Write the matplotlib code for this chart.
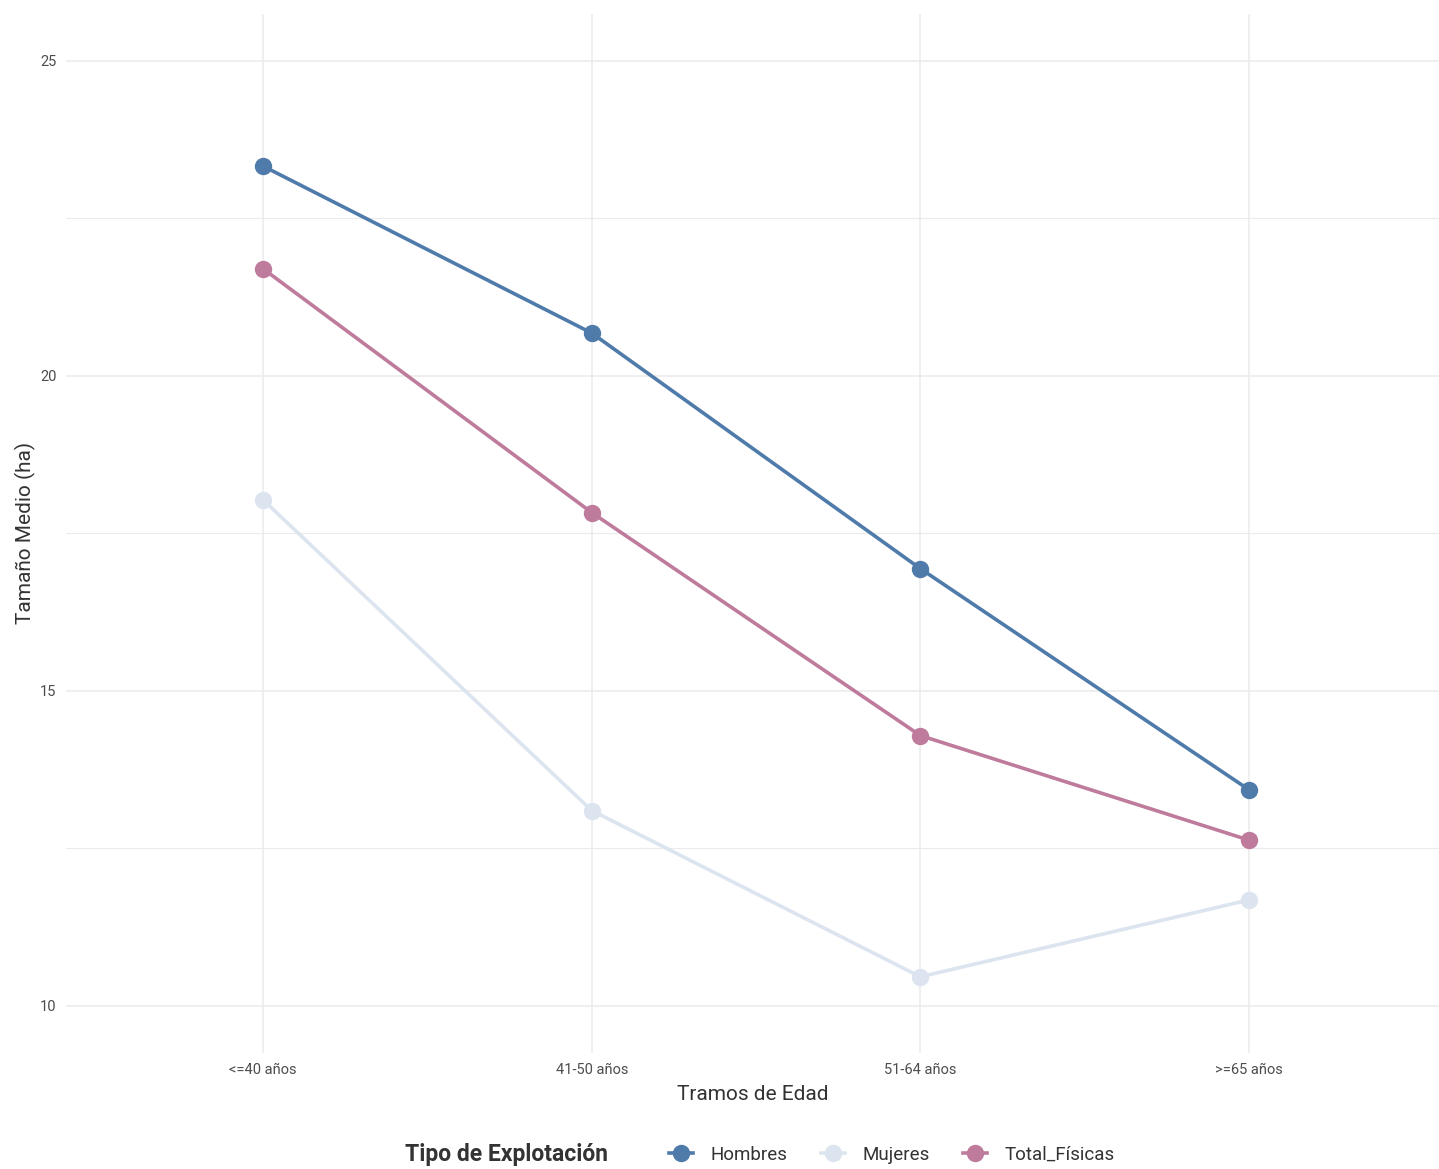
import matplotlib
matplotlib.use("Agg")
import matplotlib.pyplot as plt
from matplotlib.lines import Line2D

categories = ["<=40 años", "41-50 años", "51-64 años", ">=65 años"]
hombres = [23.33, 20.68, 16.94, 13.43]
mujeres = [18.03, 13.10, 10.46, 11.68]
total_fisicas = [21.70, 17.83, 14.29, 12.63]
series_names = ["Hombres", "Mujeres", "Total_Físicas"]
colors = ["#4F7BAB", "#DCE5EF", "#BF7B9C"]

plt.rcParams['font.family'] = ['Roboto', 'DejaVu Sans']

W, H = 1439, 1169
fig = plt.figure(figsize=(W / 100, H / 100), dpi=100)
left = 66 / W
bottom = (H - 1053) / H
top = (H - 13.75) / H
ax = fig.add_axes([left, bottom, 1 - left, top - bottom])

x = list(range(len(categories)))
for vals, name, c in zip([hombres, mujeres, total_fisicas], series_names, colors):
    ax.plot(x, vals, color=c, lw=2.6, marker="o", markersize=11.5, label=name,
            solid_capstyle="round")

ax.set_xlim(-0.6, -0.6 + (W - 66) / 328.6)
ax.set_ylim(9.25, 25.75)
ax.set_yticks([10, 15, 20, 25])
ax.set_yticks([12.5, 17.5, 22.5], minor=True)
ax.set_xticks(x)
ax.set_xticklabels(categories)
ax.grid(True, which="major", color="#EBEBEB", lw=1.1)
ax.grid(True, which="minor", axis="y", color="#EBEBEB", lw=0.8)
ax.set_axisbelow(True)
for s in ax.spines.values():
    s.set_visible(False)
ax.tick_params(which="both", length=0, labelsize=10.5, labelcolor="#4D4D4D", pad=7)

ax.set_xlabel("Tramos de Edad", fontsize=15, color="#333333", labelpad=6)
ax.set_ylabel("Tamaño Medio (ha)", fontsize=15, color="#333333", labelpad=3)

fig.text(405 / W, 1 - 1155 / H, "Tipo de Explotación", fontsize=16.5, fontweight="bold",
         color="#333333", ha="left", va="center")
handles = [Line2D([0], [0], color=c, lw=2.6, marker="o", markersize=11.5) for c in colors]
leg = fig.legend(handles, series_names, loc="center left",
                 bbox_to_anchor=(652 / W, 1 - 1155 / H), ncol=3, frameon=False,
                 fontsize=13.5, handlelength=1.3, columnspacing=1.8, handletextpad=0.9)
for t in leg.get_texts():
    t.set_color("#333333")

fig.savefig("out.png", dpi=100, facecolor="white")
